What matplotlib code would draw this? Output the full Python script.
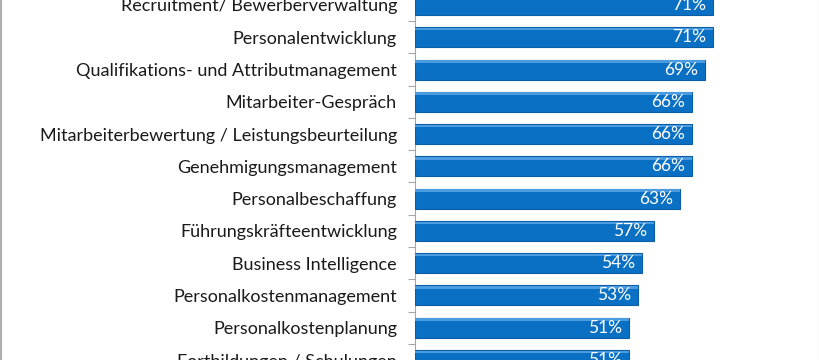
import matplotlib.pyplot as plt
from matplotlib.lines import Line2D

categories = [
    "Recruitment/ Bewerberverwaltung",
    "Personalentwicklung",
    "Qualifikations- und Attributmanagement",
    "Mitarbeiter-Gespräch",
    "Mitarbeiterbewertung / Leistungsbeurteilung",
    "Genehmigungsmanagement",
    "Personalbeschaffung",
    "Führungskräfteentwicklung",
    "Business Intelligence",
    "Personalkostenmanagement",
    "Personalkostenplanung",
    "Fortbildungen / Schulungen",
]
values = [71, 71, 69, 66, 66, 66, 63, 57, 54, 53, 51, 51]

plt.rcParams['font.family'] = ['Lato', 'DejaVu Sans']

fig = plt.figure(figsize=(8.2, 3.6), dpi=100)
ax = fig.add_axes([415 / 820, 0, 405 / 820, 1])

pos = list(range(len(categories)))
bar_color = '#0a70c4'
ax.barh(pos, values, height=0.62, color=bar_color,
        edgecolor='#0b5ea6', linewidth=0.8, zorder=3)
# light highlight along top of each bar
ax.barh([p - 0.25 for p in pos], values, height=0.08, color='#4a9be0',
        linewidth=0, zorder=4)

for p, v in zip(pos, values):
    ax.annotate(f"{v}%", xy=(v, p), xytext=(-5, 0), textcoords='offset points',
                ha='right', va='center', color='white', fontsize=12.5, zorder=5)

ax.set_xlim(0, 405 / 4.2)
ax.set_ylim(355 / 32.5, -5 / 32.5)

ax.set_yticks(pos)
ax.set_yticklabels(categories, fontsize=13, color='#1a1a1a')
ax.set_yticks([p + 0.5 for p in pos[:-1]], minor=True)
ax.tick_params(axis='y', which='major', length=0, pad=13)
ax.tick_params(axis='y', which='minor', length=5, color='#a6a6a6', width=0.8)
ax.set_xticks([])

for s in ['top', 'right', 'bottom']:
    ax.spines[s].set_visible(False)
ax.spines['left'].set_color('#a6a6a6')
ax.spines['left'].set_linewidth(0.8)

# chart frame edges
fig.add_artist(Line2D([0.001, 0.001], [0, 1], transform=fig.transFigure,
                      color='#b0b0b0', linewidth=1.5))
fig.add_artist(Line2D([0.9995, 0.9995], [0, 1], transform=fig.transFigure,
                      color='#b0b0b0', linewidth=1.5))

fig.savefig("out.png", dpi=100)
